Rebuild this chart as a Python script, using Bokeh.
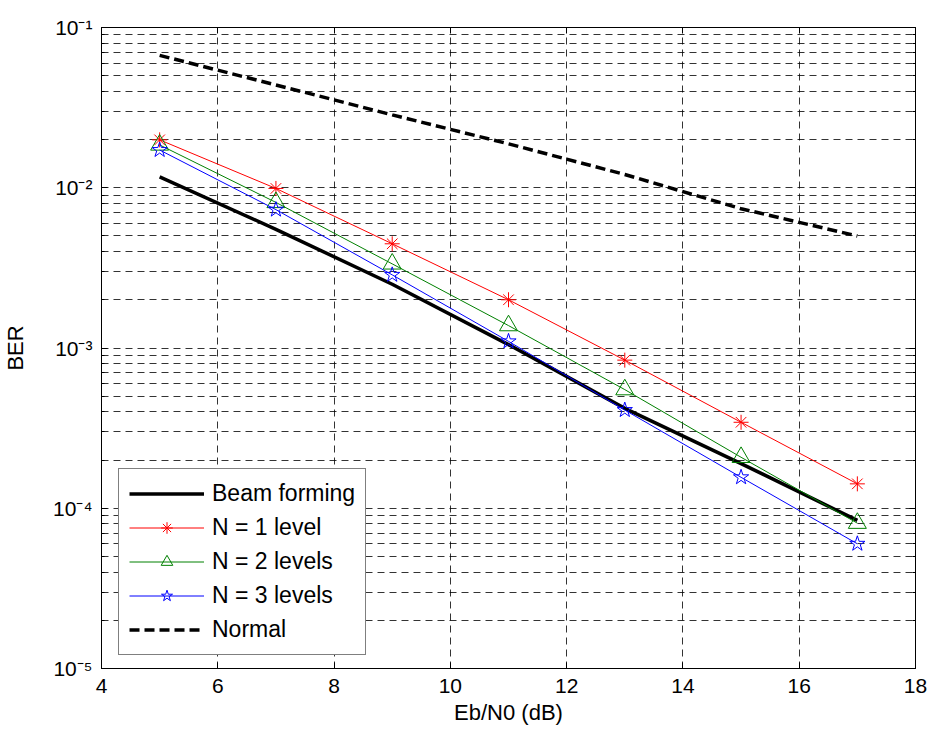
from bokeh.plotting import figure
from bokeh.models import FixedTicker, LogAxis, LinearAxis, Legend, LegendItem
from bokeh.embed import file_html
from bokeh.resources import INLINE

ebn0 = [5, 7, 9, 11, 13, 15, 17]
ber_beam = [0.0117, 0.0055, 0.0025, 0.00105, 0.00042, 0.00019, 0.000084]
ber_n1 = [0.0199, 0.0099, 0.00447, 0.0020, 0.00084, 0.000344, 0.000142]
ber_n2 = [0.0185, 0.0081, 0.00335, 0.00138, 0.00055, 0.000208, 0.0000807]
ber_n3 = [0.0172, 0.0073, 0.00286, 0.0011, 0.00041, 0.000156, 0.00006]
ber_normal = [0.067, 0.0438, 0.0285, 0.0188, 0.0121, 0.0074, 0.0050]

x_ticks = [4, 6, 8, 10, 12, 14, 16, 18]
y_major = [1e-5, 1e-4, 1e-3, 1e-2, 1e-1]
y_labels = {1e-5: "10\u207b\u2075", 1e-4: "10\u207b\u2074", 1e-3: "10\u207b\u00b3",
            1e-2: "10\u207b\u00b2", 1e-1: "10\u207b\u00b9"}
y_minor = [m * 10.0 ** e for e in range(-5, -1) for m in range(2, 10)]

FONT = "Liberation Sans"

p = figure(width=930, height=733, x_range=(4, 18), y_range=(1e-5, 1e-1),
           y_axis_type="log", output_backend="svg", toolbar_location=None)
p.min_border_left = 100
p.min_border_right = 15
p.min_border_top = 27
p.min_border_bottom = 65
p.outline_line_color = "black"
p.outline_line_width = 1

xt = FixedTicker(ticks=x_ticks)
yt = FixedTicker(ticks=y_major, minor_ticks=y_minor)

p.xaxis.ticker = xt
p.yaxis.ticker = yt
p.yaxis.major_label_overrides = {k: v for k, v in y_labels.items()}

for ax in [p.xaxis[0], p.yaxis[0]]:
    ax.major_tick_in = 6
    ax.major_tick_out = 0
    ax.minor_tick_in = 3
    ax.minor_tick_out = 0
    ax.axis_line_color = "black"
    ax.major_label_text_font = FONT
    ax.major_label_text_font_size = "21px"
    ax.major_label_text_color = "black"
    ax.axis_label_text_font = FONT
    ax.axis_label_text_font_size = "22px"
    ax.axis_label_text_font_style = "normal"
    ax.axis_label_text_color = "black"
p.xaxis.minor_tick_line_color = None
p.xaxis.axis_label = "Eb/N0 (dB)"
p.xaxis.axis_label_standoff = 4
p.xaxis.major_label_standoff = 10
p.yaxis.axis_label = "BER"
p.yaxis.axis_label_standoff = 22
p.yaxis.major_label_standoff = 9

# top / right tick-only axes
top = LinearAxis(ticker=xt, major_label_overrides={t: "" for t in x_ticks},
                 major_tick_in=6, major_tick_out=0, major_label_standoff=0,
                 minor_tick_line_color=None, axis_line_color="black")
right = LogAxis(ticker=yt, major_label_overrides={t: "" for t in y_major},
                major_tick_in=6, major_tick_out=0, major_label_standoff=0,
                minor_tick_in=3, minor_tick_out=0, axis_line_color="black")
p.add_layout(top, "above")
p.add_layout(right, "right")

# grid
for g in [p.xgrid[0], p.ygrid[0]]:
    g.grid_line_color = "black"
    g.grid_line_alpha = 0.8
    g.grid_line_dash = "7 5"
p.ygrid.minor_grid_line_color = "black"
p.ygrid.minor_grid_line_alpha = 0.8
p.ygrid.minor_grid_line_dash = "7 5"

r_beam = p.line(ebn0, ber_beam, line_color="black", line_width=3.5)
r1l = p.line(ebn0, ber_n1, line_color="red", line_width=1)
r1m = p.scatter(ebn0, ber_n1, marker="asterisk", size=15, line_color="red", line_width=1)
r2l = p.line(ebn0, ber_n2, line_color="green", line_width=1)
r2m = p.scatter(ebn0, ber_n2, marker="triangle", size=18, line_color="green", fill_color=None, line_width=1)
r3l = p.line(ebn0, ber_n3, line_color="blue", line_width=1)
r3m = p.scatter(ebn0, ber_n3, marker="star", size=16, line_color="blue", fill_color=None, line_width=1)
r_norm = p.line(ebn0, ber_normal, line_color="black", line_width=3.5, line_dash="10 5")

legend = Legend(items=[
    LegendItem(label="Beam forming", renderers=[r_beam]),
    LegendItem(label="N = 1 level", renderers=[r1l, r1m]),
    LegendItem(label="N = 2 levels", renderers=[r2l, r2m]),
    LegendItem(label="N = 3 levels", renderers=[r3l, r3m]),
    LegendItem(label="Normal", renderers=[r_norm]),
], location=(17, 13))
legend.label_text_font = FONT
legend.label_text_font_size = "23px"
legend.label_text_color = "black"
legend.glyph_width = 75
legend.glyph_height = 29
legend.label_height = 29
legend.spacing = 5
legend.padding = 10
legend.margin = 0
legend.label_standoff = 8
legend.border_line_color = "black"
legend.border_line_width = 1
legend.background_fill_color = "white"
legend.background_fill_alpha = 1
p.add_layout(legend, "center")

open("out.html", "w").write(file_html(p, INLINE))
